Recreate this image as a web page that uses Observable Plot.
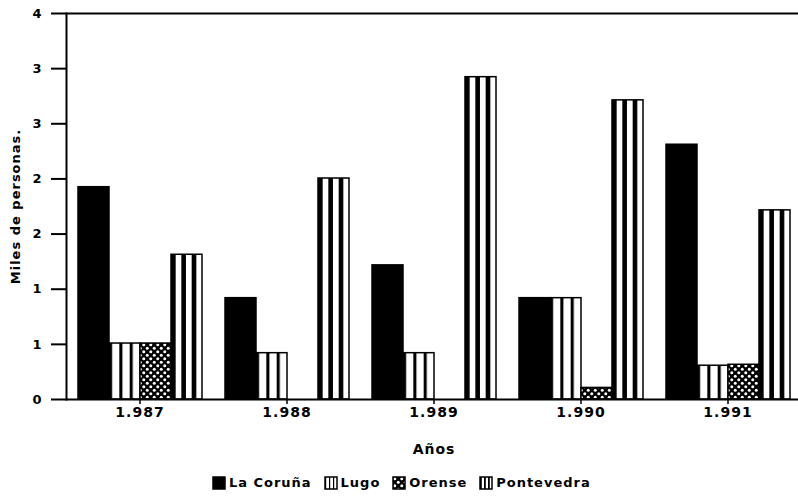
<!DOCTYPE html>
<html><head><meta charset="utf-8">
<script src="https://cdn.jsdelivr.net/npm/d3@7"></script>
<script src="https://cdn.jsdelivr.net/npm/@observablehq/plot@0.6"></script>
<style>
body{margin:0;background:#fff;}
#legend{display:flex;justify-content:flex-start;padding-left:213px;margin-top:4px;}
.lg-swatch > svg{overflow:visible;margin-right:0.3em !important;}
.lg-swatch > svg rect{stroke:#000;stroke-width:1.5px;}
</style></head><body>
<svg width="0" height="0" style="position:absolute">
<defs>
<pattern id="pLugo" patternUnits="objectBoundingBox" patternContentUnits="objectBoundingBox" width="0.3333" height="1"><rect width="1" height="1" fill="#fff"/><rect width="0.1" height="1" fill="#000"/></pattern>
<pattern id="pPonte" patternUnits="objectBoundingBox" patternContentUnits="objectBoundingBox" width="0.3333" height="1"><rect width="1" height="1" fill="#fff"/><rect width="0.15" height="1" fill="#000"/></pattern>
<pattern id="pOrense" patternUnits="userSpaceOnUse" width="7" height="7"><rect width="7" height="7" fill="#000"/><circle cx="1.75" cy="1.75" r="1.5" fill="#fff"/><circle cx="5.25" cy="5.25" r="1.5" fill="#fff"/></pattern>
</defs></svg>
<div id="chart"></div><div id="legend"></div>
<script>
const years = ["1.987","1.988","1.989","1.990","1.991"];
const provincias = ["La Coruña","Lugo","Orense","Pontevedra"];
const laCoruna   = [2.20, 1.05, 1.39, 1.05, 2.64];
const lugo       = [0.58, 0.48, 0.48, 1.05, 0.35];
const orense     = [0.58, 0.00, 0.00, 0.12, 0.36];
const pontevedra = [1.50, 2.29, 3.34, 3.10, 1.96];
const yTickValues = [0, 0.5714, 1.1429, 1.7143, 2.2857, 2.8571, 3.4286, 4];
const yTickLabels = ["0","1","1","2","2","3","3","4"];
const fills = ["#000","url(#pLugo)","url(#pOrense)","url(#pPonte)"];

const series = [laCoruna, lugo, orense, pontevedra];
const data = years.flatMap((yr, i) => provincias.map((p, j) => ({year: yr, provincia: p, value: series[j][i]})));

const chart = Plot.plot({
  width: 798, height: 462,
  marginTop: 13, marginBottom: 63, marginLeft: 64, marginRight: -4,
  style: {fontFamily: "'DejaVu Sans'", fontWeight: "bold", fontSize: "13px", color: "#000", background: "#fff", letterSpacing: "1px"},
  fx: {domain: years, padding: 0, axis: null},
  x: {domain: provincias, paddingInner: 0, paddingOuter: 0.3, axis: null},
  y: {domain: [0, 4]},
  color: {domain: provincias, range: fills},
  marks: [
    Plot.barY(data, {fx: "year", x: "provincia", y: "value", fill: "provincia", stroke: "#000", strokeWidth: 1.5, inset: 0}),
    Plot.ruleY([0, 4], {stroke: "#000", strokeWidth: 2}),
    Plot.frame({anchor: "left", facet: "super", stroke: "#000", strokeWidth: 2}),
    Plot.axisY({ticks: yTickValues, tickFormat: (d, i) => yTickLabels[i], tickSize: 15, tickPadding: 9, strokeWidth: 2,
      label: "Miles de personas.", labelAnchor: "center", labelArrow: "none", labelOffset: 56}),
    Plot.axisFx({anchor: "bottom", tickSize: 5, tickPadding: 3, fontSize: 14, strokeWidth: 1.5, label: "Años", labelAnchor: "center", labelArrow: "none", labelOffset: 54})
  ]
});
document.getElementById("chart").appendChild(chart);

const legend = Plot.legend({
  color: {domain: provincias, range: fills},
  legend: "swatches", className: "lg", swatchSize: 12,
  style: {fontFamily: "'DejaVu Sans'", fontWeight: "bold", fontSize: "13px", color: "#000", letterSpacing: "1px"}
});
document.getElementById("legend").appendChild(legend);
</script>
</body></html>
